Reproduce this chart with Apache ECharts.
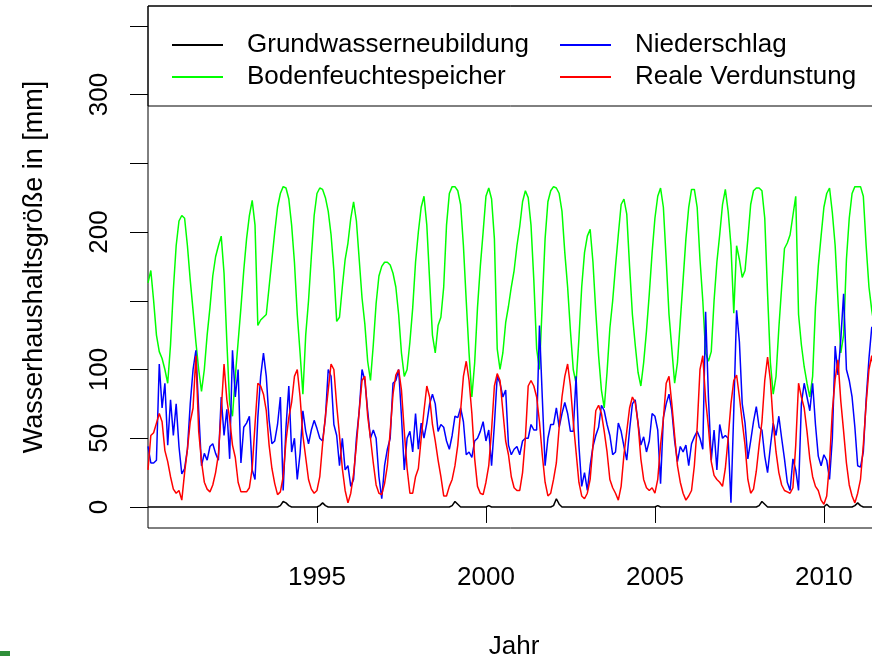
<!DOCTYPE html>
<html>
<head>
<meta charset="utf-8">
<script src="https://cdn.jsdelivr.net/npm/echarts@6/dist/echarts.min.js"></script>
<style>
html,body{margin:0;padding:0;background:#fff;}
#chart{width:872px;height:656px;}
</style>
</head>
<body>
<div id="chart"></div>
<script>
// ---- data (monthly values, first month = January 1990) ----
const startYear = 1990;
const seriesNames = ['Grundwasserneubildung', 'Bodenfeuchtespeicher', 'Niederschlag', 'Reale Verdunstung'];
const xTickValues = [1995, 2000, 2005, 2010];
const yTickValues = [0, 50, 100, 150, 200, 250, 300, 350];
const yLabelValues = [0, 50, 100, 200, 300];

const grundwasser = [
0,0,0,0,0,0,0,0,0,0, 0,0,0,0,0,0,0,0,0,0,
0,0,0,0,0,0,0,0,0,0, 0,0,0,0,0,0,0,0,0,0,
0,0,0,0,0,0,0,1,4,3, 1,0,0,0,0,0,0,0,0,0,
0,1,3,1,0,0,0,0,0,0, 0,0,0,0,0,0,0,0,0,0,
0,0,0,0,0,0,0,0,0,0, 0,0,0,0,0,0,0,0,0,0,
0,0,0,0,0,0,0,0,1,4, 2,0,0,0,0,0,0,0,0,0,
0,1,0,0,0,0,0,0,0,0, 0,0,0,0,0,0,0,0,0,0,
0,0,0,0,1,6,2,0,0,0, 0,0,0,0,0,0,0,0,0,0,
0,0,0,0,0,0,0,0,0,0, 0,0,0,0,0,0,0,0,0,0,
0,1,0,0,0,0,0,0,0,0, 0,0,0,0,0,0,0,0,0,0,
0,0,0,0,0,0,0,0,0,0, 0,0,0,0,0,0,0,1,4,2,
0,0,0,0,0,0,0,0,0,0, 0,0,0,0,0,0,0,0,0,0,
0,2,0,0,0,0,0,0,0,0, 0,1,3,1,0,0,0,0,0,0
];

const bodenfeuchte = [
163,172,150,125,113,108,100,90,118,158, 190,208,212,210,190,165,143,120,100,84,
100,125,145,168,182,190,197,170,120,75, 66,95,120,145,172,195,212,223,205,132,
136,138,140,160,180,200,218,228,233,232, 224,205,178,140,112,82,125,150,182,212,
228,232,231,225,215,198,172,135,138,160, 180,192,210,222,208,180,152,133,106,92,
118,148,168,175,178,178,176,170,160,140, 112,95,100,120,145,178,200,218,226,205,
165,125,112,132,138,160,205,228,233,233, 230,220,190,150,112,80,105,145,175,200,
226,232,224,195,115,100,112,134,146,160, 172,190,204,222,230,225,205,165,115,100,
148,195,222,230,233,232,228,215,185,160, 128,100,90,122,160,185,197,202,178,142,
110,85,72,98,130,150,175,198,220,224, 213,175,140,118,98,88,105,128,155,185,
210,226,232,218,180,140,115,90,105,135, 165,195,218,231,231,218,180,150,112,106,
113,150,178,198,220,231,215,190,141,190, 180,167,172,195,220,230,232,232,230,210,
155,105,82,95,130,160,188,192,198,212, 226,140,118,102,90,80,95,145,175,197,
218,228,232,214,190,150,112,125,180,210, 228,233,233,233,226,190,160,143,130,120
];

const niederschlag = [
44,32,32,34,104,72,90,45,78,52, 75,44,24,28,42,75,100,114,70,30,
39,34,44,46,39,34,80,52,71,35, 114,80,100,32,58,61,66,27,20,65,
95,112,95,63,46,48,60,80,12,58, 88,40,50,20,39,70,55,46,56,63,
57,50,48,65,100,95,60,52,30,50, 27,30,15,20,50,70,100,92,70,50,
56,50,22,6,30,42,50,90,92,100, 66,27,50,55,40,68,42,61,50,61,
75,82,75,55,60,58,48,42,52,66, 65,72,62,38,40,36,48,50,55,62,
48,56,30,60,95,90,80,85,45,38, 42,44,38,48,50,50,60,56,56,132,
80,30,50,60,60,72,58,68,76,68, 55,55,95,45,15,25,12,30,44,52,
58,74,70,60,52,38,40,61,55,44, 34,56,75,78,61,45,51,40,48,68,
66,56,17,65,75,82,70,48,33,44, 40,45,30,46,51,55,50,42,142,80,
34,56,27,60,50,52,50,3,70,143, 120,75,61,35,48,62,73,58,56,37,
25,44,61,52,66,50,35,18,12,35, 27,12,75,90,80,70,90,60,37,30,
38,34,20,50,117,96,122,155,100,92, 80,58,30,29,40,78,108,131,125,110
];

const verdunstung = [
27,52,54,61,68,62,41,33,22,13, 10,12,5,25,42,62,72,110,55,33,
18,13,11,16,25,38,70,104,78,64, 45,36,18,11,11,11,14,28,60,90,
88,82,70,45,28,17,9,11,22,48, 65,76,95,100,80,52,36,20,13,10,
12,22,46,66,85,104,100,74,52,28, 12,3,10,24,45,70,92,95,66,50,
32,16,10,9,17,30,55,82,96,100, 85,55,28,10,10,22,28,50,70,88,
80,60,48,34,22,8,8,15,20,30, 45,70,95,106,92,68,35,15,10,9,
18,30,56,88,97,92,70,48,38,22, 14,12,12,25,50,88,92,88,80,62,
38,18,8,10,20,32,58,80,95,104, 88,62,40,18,8,6,10,20,45,70,
74,68,55,40,20,14,10,5,15,38, 55,72,80,76,61,35,20,14,12,14,
10,20,45,64,90,95,75,52,30,18, 10,5,8,12,30,58,100,110,78,58,
33,23,20,18,15,28,50,75,92,96, 80,62,45,20,10,13,26,45,62,92,
109,92,61,40,25,16,12,11,10,14, 45,90,80,72,55,35,22,15,12,5,
2,8,32,70,93,107,77,55,32,16, 8,3,10,20,45,75,100,110,95,80
];

// ---- build series data from the arrays ----
function toPairs(arr) {
  return arr.map((v, k) => [startYear + k / 12, v]);
}
const seriesArrays = [grundwasser, bodenfeuchte, niederschlag, verdunstung];
const seriesColors = ['#000000', '#00ff00', '#0000ff', '#ff0000'];

const FONT = "'Liberation Sans', Arial, sans-serif";
const chart = echarts.init(document.getElementById('chart'), null, {renderer: 'canvas'});

const legendCommon = {
  orient: 'vertical',
  top: 32,
  padding: 0,
  itemWidth: 51,
  itemHeight: 2,
  itemGap: 6,
  icon: 'rect',
  selectedMode: false,
  textStyle: {fontFamily: FONT, fontSize: 26, color: '#000', padding: [0, 0, 0, 19]}
};

chart.setOption({
  animation: false,
  backgroundColor: '#ffffff',
  grid: {
    left: 148, right: -8, top: 6, bottom: 128,
    outerBoundsMode: 'none',
    containLabel: false,
    show: true, borderColor: '#000', borderWidth: 1, backgroundColor: 'transparent'
  },
  xAxis: {
    type: 'value',
    min: 1990, max: 2011.66,
    name: 'Jahr', nameLocation: 'middle', nameGap: 106,
    nameTextStyle: {fontFamily: FONT, fontSize: 26, color: '#000'},
    axisLine: {show: false},
    splitLine: {show: false},
    axisTick: {show: true, customValues: xTickValues, length: 16, lineStyle: {color: '#000', width: 1}},
    axisLabel: {customValues: xTickValues, formatter: v => String(v), fontFamily: FONT, fontSize: 26, color: '#000', margin: 37}
  },
  yAxis: {
    type: 'value',
    min: -15.3, max: 364.4,
    name: 'Wasserhaushaltsgröße in [mm]', nameLocation: 'middle', nameGap: 100,
    nameTextStyle: {fontFamily: FONT, fontSize: 27, color: '#000'},
    axisLine: {show: false},
    splitLine: {show: false},
    axisTick: {show: true, customValues: yTickValues, length: 18, lineStyle: {color: '#000', width: 1}},
    axisLabel: {customValues: yLabelValues, formatter: v => String(v), rotate: 90, fontFamily: FONT, fontSize: 26, color: '#000', margin: 35}
  },
  legend: [
    Object.assign({left: 172, data: [seriesNames[0], seriesNames[1]]}, legendCommon),
    Object.assign({left: 560, data: [seriesNames[2], seriesNames[3]]}, legendCommon)
  ],
  graphic: [
    {type: 'rect', shape: {x: 148, y: 6, width: 760, height: 100}, style: {fill: 'transparent', stroke: '#000', lineWidth: 1}, z: 5},
    {type: 'rect', shape: {x: 0, y: 651, width: 10, height: 5}, style: {fill: '#2f8f3a'}, z: 5}
  ],
  series: seriesArrays.map((arr, i) => ({
    name: seriesNames[i],
    type: 'line',
    data: toPairs(arr),
    showSymbol: false,
    symbol: 'none',
    color: seriesColors[i],
    lineStyle: {color: seriesColors[i], width: 1.5},
    z: 2 + i
  }))
});
</script>
</body>
</html>
